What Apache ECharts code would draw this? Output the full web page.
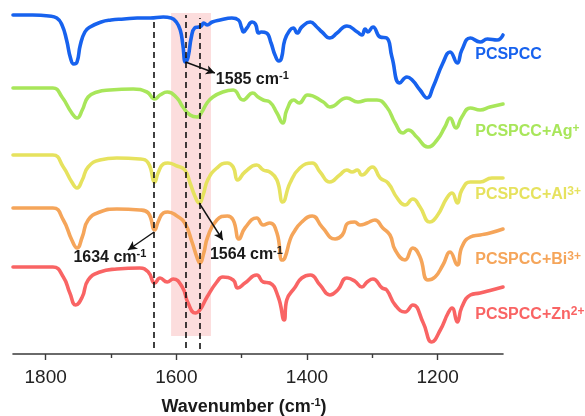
<!DOCTYPE html>
<html>
<head>
<meta charset="utf-8">
<script src="https://cdn.jsdelivr.net/npm/echarts@6/dist/echarts.min.js"></script>
<style>
  html, body { margin: 0; padding: 0; background: #ffffff; }
  #chart { width: 585px; height: 416px; }
</style>
</head>
<body>
<div id="chart"></div>
<script>
// FTIR spectra, stacked with vertical offsets (intensity in arbitrary units)
const majorTicks = [1200, 1400, 1600, 1800];
const minorTicks = [1300, 1500, 1700];

const sampleNames = ['PCSPCC', 'PCSPCC+Ag+', 'PCSPCC+Al3+', 'PCSPCC+Bi3+', 'PCSPCC+Zn2+'];
const sampleLabels = ['PCSPCC', 'PCSPCC+Ag{sup|+}', 'PCSPCC+Al{sup|3+}', 'PCSPCC+Bi{sup|3+}', 'PCSPCC+Zn{sup|2+}'];
const sampleColors = ['#1762EE', '#A8E65A', '#E6E25E', '#F5A55A', '#F96464'];

// [wavenumber (cm-1), offset intensity]
const pcspcc = [
  [1850,339],[1820,339],[1795,338],[1783,336],[1775,329],[1768,314],[1762,296],[1757,290],[1752,292],
  [1747,309],[1740,322],[1732,327],[1715,332],[1700,334],[1680,335],[1660,336],[1640,336],[1620,337],
  [1608,336],[1600,332],[1594,324],[1590,309],[1586,292],[1582,297],[1577,317],[1572,326],[1566,327],
  [1562,328],[1558,331],[1553,329],[1545,332],[1533,334],[1515,336],[1505,334],[1500,326],[1497,322],
  [1492,326],[1484,332],[1479,330],[1474,321],[1470,322],[1462,321],[1455,311],[1449,299],[1443,293],
  [1439,296],[1434,314],[1426,324],[1421,326],[1415,321],[1408,327],[1395,332],[1385,327],[1377,322],
  [1365,316],[1354,321],[1339,328],[1323,322],[1316,319],[1311,325],[1307,322],[1299,327],[1288,317],
  [1278,316],[1270,297],[1258,271],[1247,277],[1239,274],[1227,264],[1216,256],[1207,267],[1192,291],
  [1181,302],[1170,291],[1163,304],[1150,316],[1135,312],[1124,315],[1109,314],[1100,319]
];
const pcspccAg = [
  [1850,266],[1789,266],[1775,257],[1760,241],[1752,236],[1744,244],[1735,257],[1721,262],[1702,264],
  [1666,265],[1645,262],[1633,255],[1625,259],[1614,262],[1599,256],[1590,247],[1579,239],[1568,237],
  [1561,242],[1553,251],[1544,257],[1529,262],[1513,264],[1498,254],[1483,261],[1475,257],[1467,254],
  [1457,252],[1446,241],[1437,231],[1431,244],[1420,254],[1412,251],[1399,259],[1375,252],[1365,247],
  [1339,256],[1322,252],[1307,254],[1293,254],[1278,247],[1265,231],[1253,221],[1245,224],[1232,217],
  [1215,207],[1201,214],[1189,227],[1181,236],[1172,226],[1163,237],[1150,246],[1135,244],[1120,247],
  [1100,250]
];
const pcspccAl = [
  [1850,199],[1789,199],[1773,187],[1760,172],[1752,166],[1744,174],[1735,187],[1717,194],[1691,196],
  [1656,195],[1643,191],[1633,172],[1628,181],[1620,190],[1613,191],[1599,188],[1587,184],[1579,171],
  [1571,157],[1565,151],[1559,159],[1552,174],[1538,186],[1522,191],[1513,187],[1506,174],[1495,182],
  [1477,189],[1467,184],[1457,182],[1446,174],[1437,152],[1426,171],[1411,186],[1392,191],[1380,182],
  [1365,172],[1350,179],[1339,184],[1331,182],[1323,184],[1316,179],[1300,187],[1288,176],[1276,171],
  [1262,156],[1250,149],[1238,155],[1227,147],[1212,132],[1200,139],[1186,156],[1178,161],[1170,151],
  [1163,164],[1150,172],[1135,172],[1117,176],[1100,176]
];
const pcspccBi = [
  [1850,146],[1789,146],[1773,134],[1760,114],[1752,106],[1744,117],[1735,134],[1717,142],[1691,145],
  [1656,144],[1643,141],[1633,124],[1628,132],[1620,141],[1613,142],[1599,138],[1587,131],[1576,112],
  [1568,96],[1564,91],[1558,101],[1552,117],[1538,134],[1522,138],[1513,134],[1504,115],[1495,126],
  [1477,136],[1467,129],[1457,131],[1446,121],[1438,94],[1434,96],[1426,114],[1421,121],[1408,132],
  [1392,138],[1377,127],[1357,115],[1346,119],[1337,131],[1327,132],[1319,129],[1308,131],[1296,134],
  [1284,126],[1273,119],[1265,104],[1250,94],[1238,106],[1227,97],[1215,74],[1204,77],[1192,89],
  [1181,102],[1170,89],[1163,107],[1150,117],[1135,119],[1120,121],[1100,125]
];
const pcspccZn = [
  [1850,87],[1789,87],[1773,77],[1763,61],[1754,49],[1744,57],[1735,74],[1717,82],[1691,85],[1656,86],
  [1643,82],[1633,71],[1625,76],[1614,72],[1605,75],[1591,67],[1582,51],[1571,41],[1564,44],[1553,57],
  [1538,72],[1529,77],[1513,74],[1506,66],[1495,71],[1477,79],[1467,72],[1457,71],[1444,57],[1435,34],
  [1431,54],[1418,67],[1408,76],[1395,79],[1380,69],[1365,59],[1353,64],[1339,76],[1327,73],[1316,67],
  [1308,72],[1299,75],[1285,66],[1278,64],[1265,49],[1250,42],[1238,49],[1222,31],[1209,12],[1196,24],
  [1184,41],[1178,46],[1170,32],[1163,47],[1150,59],[1135,61],[1117,64],[1100,67]
];
const spectra = [pcspcc, pcspccAg, pcspccAl, pcspccBi, pcspccZn];

// vertical reference lines at the discussed bands
const markedBands = [1634, 1585, 1564];
const bandSpans = [[6, 336], [6, 339], [5, 336]];
// shaded region
const shadedRange = [1608, 1547];
const shadedSpan = [18, 341];

// arrows: [from wavenumber, from intensity, to wavenumber, to intensity]
const arrows = [
  [1586, 292, 1541, 281],
  [1634, 122, 1674, 104],
  [1565, 151, 1529, 114]
];
// peak annotations: [text, wavenumber, intensity]
const peakNotes = [
  ['1585 cm{sup|-1}', 1540, 274],
  ['1634 cm{sup|-1}', 1758, 96],
  ['1564 cm{sup|-1}', 1549, 99]
];
// sample name positions: [wavenumber, intensity]
const namePositions = [[1143, 299], [1143, 222], [1143, 159], [1143, 94], [1143, 39]];

const chart = echarts.init(document.getElementById('chart'), null, { renderer: 'canvas' });

const markLineData = [];
markedBands.forEach((wn, i) => {
  markLineData.push([
    { coord: [wn, bandSpans[i][0]], symbol: 'none' },
    { coord: [wn, bandSpans[i][1]], symbol: 'none',
      lineStyle: { type: [6, 4], color: '#111', width: 1.6 } }
  ]);
});
arrows.forEach(a => {
  markLineData.push([
    { coord: [a[0], a[1]], symbol: 'none' },
    { coord: [a[2], a[3]], symbol: 'arrow', symbolSize: [7, 9],
      lineStyle: { type: 'solid', color: '#111', width: 1.4 } }
  ]);
});

const markPointData = [];
peakNotes.forEach(n => {
  markPointData.push({
    coord: [n[1], n[2]], symbolSize: 1, itemStyle: { color: 'rgba(0,0,0,0)' },
    label: {
      show: true, position: 'right', distance: 0, formatter: n[0],
      color: '#1a1a1a', fontSize: 16, fontWeight: 'bold', fontFamily: 'Liberation Sans, Arial',
      lineHeight: 18,
      rich: { sup: { color: '#1a1a1a', fontSize: 11, fontWeight: 'bold', verticalAlign: 'top', lineHeight: 11 } }
    }
  });
});
namePositions.forEach((p, i) => {
  markPointData.push({
    coord: p, symbolSize: 1, itemStyle: { color: 'rgba(0,0,0,0)' },
    label: {
      show: true, position: 'right', distance: 0, formatter: sampleLabels[i],
      color: sampleColors[i], fontSize: 16, fontWeight: 'bold', fontFamily: 'Liberation Sans, Arial',
      lineHeight: 18,
      rich: { sup: { color: sampleColors[i], fontSize: 12, fontWeight: 'bold', verticalAlign: 'top', lineHeight: 12 } }
    }
  });
});

const series = spectra.map((data, i) => ({
  name: sampleNames[i],
  type: 'line',
  data: data,
  showSymbol: false,
  smooth: 0.5,
  z: 3,
  lineStyle: { color: sampleColors[i], width: 3.6, cap: 'round', join: 'round' },
  itemStyle: { color: sampleColors[i] },
  silent: true
}));

// annotation layer: shaded band, dashed reference lines, arrows and texts
series.push({
  name: 'annotations',
  type: 'line',
  data: [],
  silent: true,
  z: 1,
  markArea: {
    silent: true,
    itemStyle: { color: '#FCDDDD' },
    data: [[{ coord: [shadedRange[0], shadedSpan[1]] }, { coord: [shadedRange[1], shadedSpan[0]] }]]
  }
});
series.push({
  name: 'notes',
  type: 'line',
  data: [],
  silent: true,
  z: 5,
  markLine: {
    silent: true,
    animation: false,
    label: { show: false },
    lineStyle: { color: '#111' },
    data: markLineData
  },
  markPoint: {
    silent: true,
    animation: false,
    data: markPointData
  }
});

const axisBase = {
  type: 'value',
  min: 1100,
  max: 1850,
  inverse: true,
  gridIndex: 0,
  position: 'bottom',
  splitLine: { show: false }
};

chart.setOption({
  animation: false,
  backgroundColor: '#ffffff',
  grid: { left: 13, right: 82, top: 0, bottom: 62, containLabel: false, outerBoundsMode: 'none' },
  xAxis: [
    Object.assign({}, axisBase, {
      name: 'Wavenumber (cm{sup|-1})',
      nameLocation: 'middle',
      nameGap: 43,
      nameTextStyle: {
        color: '#1a1a1a', fontSize: 18, fontWeight: 'bold', fontFamily: 'Liberation Sans, Arial',
        lineHeight: 20, padding: [0, 28, 0, 0],
        rich: { sup: { fontSize: 11, fontWeight: 'bold', color: '#1a1a1a', verticalAlign: 'top', lineHeight: 11 } }
      },
      axisLine: { show: true, lineStyle: { color: '#3a3a3a', width: 1.6 } },
      axisTick: { show: true, customValues: majorTicks, length: 6, lineStyle: { color: '#3a3a3a', width: 1.4 } },
      axisLabel: {
        show: true, customValues: majorTicks, margin: 14,
        formatter: v => String(v),
        color: '#222', fontSize: 19, fontFamily: 'Liberation Sans, Arial'
      }
    }),
    Object.assign({}, axisBase, {
      axisLine: { show: false },
      axisTick: { show: true, customValues: minorTicks, length: 4, lineStyle: { color: '#3a3a3a', width: 1.4 } },
      axisLabel: { show: false }
    })
  ],
  yAxis: { type: 'value', min: 0, max: 354, show: false },
  series: series
});
</script>
</body>
</html>
